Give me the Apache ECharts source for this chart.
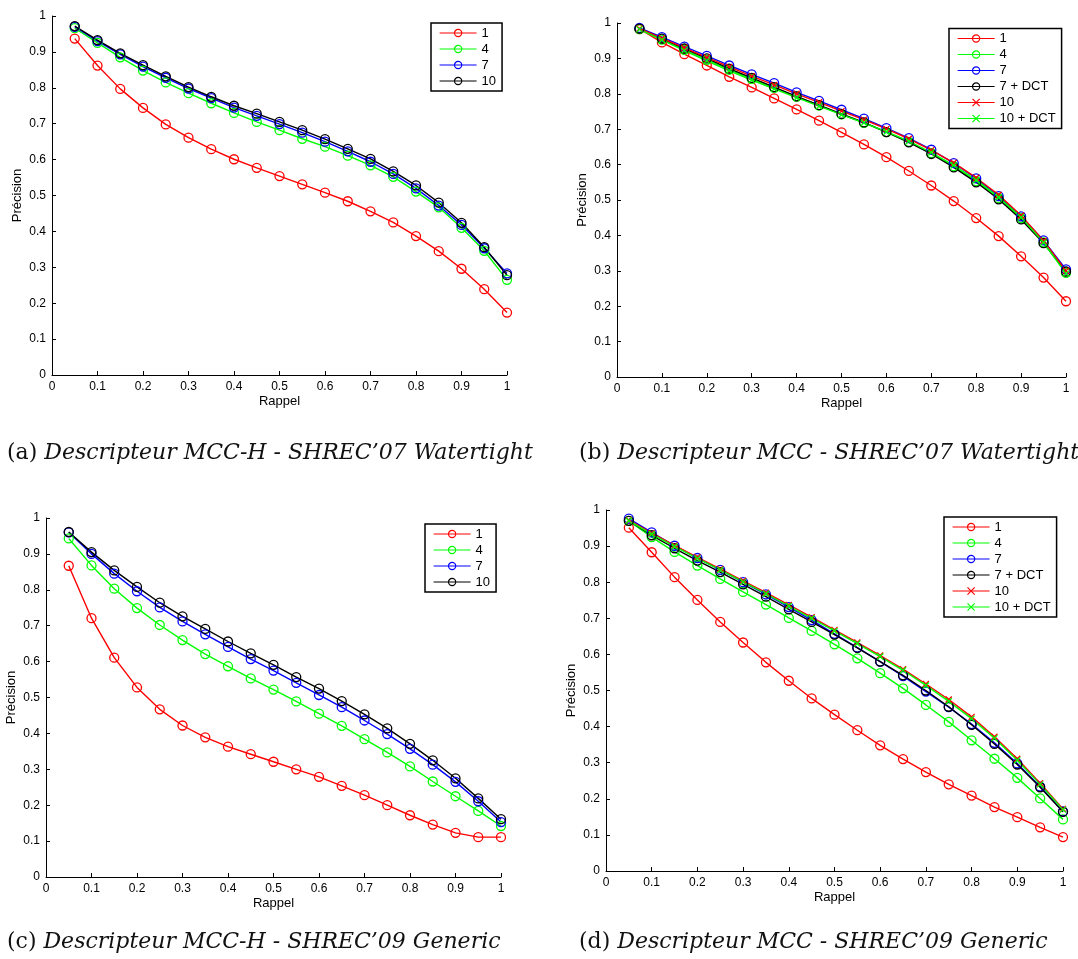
<!DOCTYPE html>
<html><head><meta charset="utf-8">
<script src="https://cdn.jsdelivr.net/npm/echarts@6/dist/echarts.min.js"></script>
<style>html,body{margin:0;padding:0;background:#fff}#c{width:1078px;height:959px}</style>
</head><body><div id="c"></div><script>
const recall = [0.05,0.1,0.15,0.2,0.25,0.3,0.35,0.4,0.45,0.5,0.55,0.6,0.65,0.7,0.75,0.8,0.85,0.9,0.95,1];
const tickLabels = ['0','0.1','0.2','0.3','0.4','0.5','0.6','0.7','0.8','0.9','1'];

// (a) MCC-H SHREC'07
const a1  = [0.937,0.862,0.797,0.744,0.698,0.661,0.629,0.601,0.577,0.554,0.531,0.508,0.484,0.456,0.425,0.387,0.345,0.296,0.239,0.174];
const a4  = [0.966,0.925,0.885,0.848,0.815,0.785,0.757,0.730,0.705,0.682,0.658,0.636,0.611,0.584,0.552,0.511,0.467,0.410,0.346,0.265];
const a7  = [0.970,0.930,0.893,0.859,0.828,0.798,0.771,0.745,0.722,0.699,0.675,0.650,0.623,0.594,0.560,0.520,0.472,0.418,0.353,0.283];
const a10 = [0.972,0.933,0.896,0.863,0.832,0.802,0.775,0.750,0.728,0.705,0.682,0.657,0.630,0.602,0.567,0.528,0.480,0.424,0.356,0.278];

// (b) MCC SHREC'07
const b1    = [0.983,0.945,0.912,0.880,0.848,0.818,0.787,0.756,0.724,0.691,0.657,0.621,0.582,0.541,0.497,0.449,0.398,0.341,0.281,0.214];
const b4    = [0.983,0.953,0.924,0.896,0.868,0.842,0.817,0.792,0.767,0.742,0.718,0.692,0.664,0.632,0.595,0.553,0.505,0.449,0.380,0.294];
const b7    = [0.986,0.960,0.933,0.907,0.880,0.855,0.830,0.804,0.780,0.755,0.730,0.703,0.675,0.642,0.604,0.561,0.511,0.454,0.386,0.304];
const b7d   = [0.984,0.956,0.928,0.900,0.871,0.845,0.819,0.793,0.768,0.743,0.719,0.692,0.663,0.630,0.592,0.550,0.502,0.445,0.378,0.298];
const b10   = [0.984,0.957,0.930,0.903,0.876,0.850,0.825,0.800,0.776,0.751,0.727,0.701,0.673,0.641,0.605,0.563,0.515,0.456,0.385,0.300];
const b10d  = [0.982,0.952,0.922,0.893,0.865,0.839,0.814,0.789,0.765,0.741,0.718,0.693,0.666,0.634,0.598,0.556,0.508,0.451,0.380,0.292];

// (c) MCC-H SHREC'09
const c1  = [0.867,0.721,0.611,0.528,0.467,0.422,0.389,0.363,0.342,0.321,0.300,0.279,0.254,0.228,0.200,0.172,0.146,0.123,0.111,0.111];
const c4  = [0.943,0.868,0.803,0.749,0.702,0.660,0.621,0.587,0.553,0.522,0.489,0.455,0.421,0.384,0.347,0.308,0.266,0.225,0.184,0.142];
const c7  = [0.960,0.900,0.845,0.796,0.751,0.712,0.676,0.641,0.607,0.575,0.541,0.507,0.473,0.436,0.398,0.357,0.313,0.265,0.211,0.153];
const c10 = [0.961,0.905,0.854,0.808,0.764,0.726,0.691,0.656,0.623,0.591,0.557,0.525,0.490,0.453,0.414,0.371,0.325,0.275,0.219,0.161];

// (d) MCC SHREC'09
const d1   = [0.951,0.883,0.814,0.751,0.690,0.633,0.578,0.527,0.478,0.433,0.390,0.348,0.310,0.274,0.240,0.209,0.177,0.149,0.121,0.094];
const d4   = [0.970,0.925,0.884,0.846,0.809,0.773,0.738,0.701,0.665,0.628,0.589,0.548,0.506,0.460,0.413,0.362,0.311,0.258,0.201,0.143];
const d7   = [0.976,0.938,0.901,0.867,0.834,0.800,0.766,0.731,0.695,0.657,0.619,0.580,0.540,0.497,0.454,0.407,0.355,0.298,0.234,0.165];
const d7d  = [0.970,0.930,0.894,0.860,0.828,0.794,0.760,0.725,0.690,0.655,0.618,0.580,0.542,0.500,0.455,0.405,0.352,0.295,0.232,0.164];
const d10  = [0.972,0.936,0.902,0.869,0.837,0.804,0.771,0.737,0.703,0.668,0.633,0.597,0.559,0.518,0.475,0.427,0.372,0.311,0.243,0.172];
const d10d = [0.970,0.933,0.899,0.866,0.834,0.801,0.768,0.734,0.700,0.665,0.630,0.594,0.556,0.514,0.470,0.422,0.368,0.307,0.240,0.170];

const captions = [
  ['(a)', 'Descripteur MCC-H - SHREC’07 Watertight'],
  ['(b)', 'Descripteur MCC - SHREC’07 Watertight'],
  ['(c)', 'Descripteur MCC-H - SHREC’09 Generic'],
  ['(d)', 'Descripteur MCC - SHREC’09 Generic']
];

const RED='#ff0000', GREEN='#00ff00', BLUE='#0000ff', BLACK='#000000';
const CIRCLE='circle', CROSS='path://M0,0L10,10M10,0L0,10';
const SANS = 'Liberation Sans, Arial, Helvetica, sans-serif';

const grids = [
  {left:52, top:16, width:455, height:359},
  {left:617, top:23, width:449, height:354},
  {left:46, top:518, width:455, height:359},
  {left:606, top:510, width:457, height:361}
];
const legendPos = [
  {left:431, top:23},
  {left:949, top:28.5},
  {left:425, top:524},
  {left:944, top:517}
];
const captionPos = [
  {left:7, top:442}, {left:579, top:442}, {left:7, top:931}, {left:579, top:931}
];

const panels = [
  [['1',a1,RED,CIRCLE],['4',a4,GREEN,CIRCLE],['7',a7,BLUE,CIRCLE],['10',a10,BLACK,CIRCLE]],
  [['1',b1,RED,CIRCLE],['4',b4,GREEN,CIRCLE],['7',b7,BLUE,CIRCLE],['7 + DCT',b7d,BLACK,CIRCLE],['10',b10,RED,CROSS],['10 + DCT',b10d,GREEN,CROSS]],
  [['1',c1,RED,CIRCLE],['4',c4,GREEN,CIRCLE],['7',c7,BLUE,CIRCLE],['10',c10,BLACK,CIRCLE]],
  [['1',d1,RED,CIRCLE],['4',d4,GREEN,CIRCLE],['7',d7,BLUE,CIRCLE],['7 + DCT',d7d,BLACK,CIRCLE],['10',d10,RED,CROSS],['10 + DCT',d10d,GREEN,CROSS]]
];

const series = [], xAxis = [], yAxis = [], legend = [], title = [];
panels.forEach((pl, g) => {
  const names = [];
  pl.forEach(([lab, vals, col, sym]) => {
    const name = 'abcd'[g] + ':' + lab;
    names.push(name);
    series.push({
      name, type:'line', xAxisIndex:g, yAxisIndex:g,
      data: recall.map((x,i)=>[x, vals[i]]),
      symbol: sym, symbolSize: sym===CROSS ? 6 : 9,
      showAllSymbol: true,
      lineStyle:{color:col, width:1.4},
      itemStyle:{color:'rgba(0,0,0,0)', borderColor:col, borderWidth:1.3},
      emphasis:{disabled:true},
      animation:false
    });
  });
  const axisCommon = {
    gridIndex:g, type:'value', min:0, max:1, interval:0.1,
    nameLocation:'middle',
    nameTextStyle:{fontSize:13, color:'#000', fontFamily:SANS},
    axisLine:{show:true, onZero:false, lineStyle:{color:'#000', width:1}},
    axisTick:{show:true, inside:true, length:4, lineStyle:{color:'#000', width:1}},
    axisLabel:{fontSize:12, color:'#000', margin:6, fontFamily:SANS, formatter:v=>tickLabels[Math.round(v*10)]},
    splitLine:{show:false}
  };
  xAxis.push(Object.assign({}, axisCommon, {name:'Rappel', nameGap:20}));
  yAxis.push(Object.assign({}, axisCommon, {name:'Précision', nameGap:28, nameRotate:90}));
  legend.push({
    orient:'vertical', left:legendPos[g].left, top:legendPos[g].top,
    data:names, formatter:n=>n.split(':')[1],
    itemWidth:37, itemHeight:9, itemGap:3,
    padding:[3.5,6,3.5,8],
    borderColor:'#000', borderWidth:1.5, backgroundColor:'#fff', borderRadius:0,
    itemStyle:{borderWidth:1.2},
    lineStyle:{width:1.2},
    textStyle:{fontSize:13, fontFamily:SANS, color:'#000', lineHeight:13},
    selectedMode:false
  });
  title.push({
    text:'{u|' + captions[g][0] + '} {i|' + captions[g][1] + '}',
    left:captionPos[g].left, top:captionPos[g].top, padding:0,
    textStyle:{fontSize:22, fontFamily:'DejaVu Serif', fontWeight:'normal', color:'#111',
      rich:{
        u:{fontSize:22, fontFamily:'DejaVu Serif', color:'#111'},
        i:{fontSize:22, fontFamily:'DejaVu Serif', fontStyle:'italic', color:'#111'}
      }}
  });
});

const chart = echarts.init(document.getElementById('c'), null, {renderer:'canvas'});
chart.setOption({
  backgroundColor:'#fff',
  animation:false,
  title, legend, grid:grids, xAxis, yAxis, series
});
</script></body></html>
